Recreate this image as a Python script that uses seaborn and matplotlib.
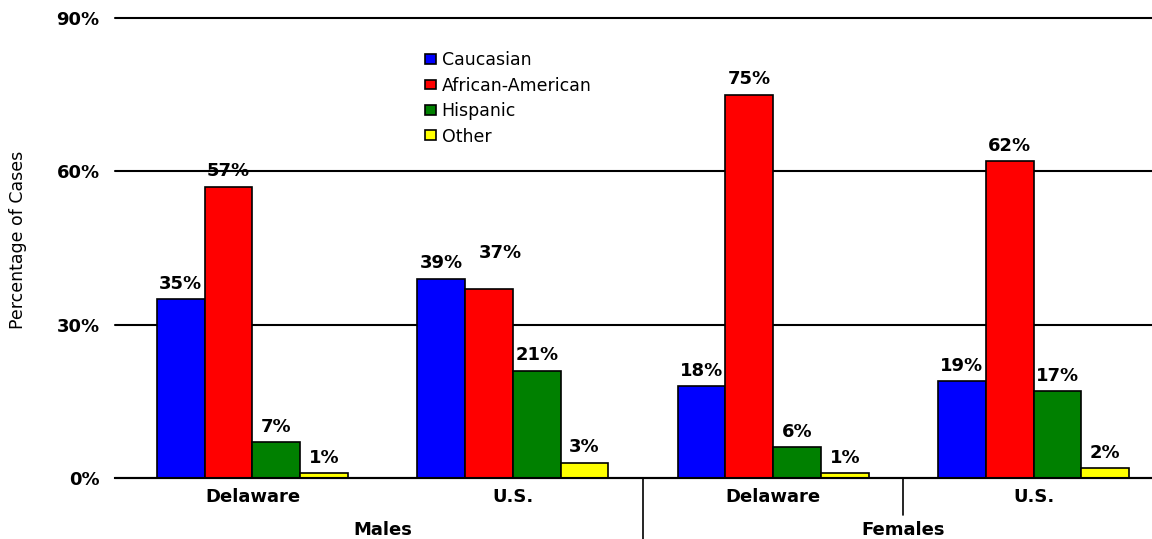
import matplotlib
matplotlib.use("Agg")
import matplotlib.pyplot as plt
from matplotlib.patches import Patch
import seaborn as sns
import pandas as pd

# Case shares (%) by sex, location and race/ethnicity
groups = ["Males Delaware", "Males U.S.", "Females Delaware", "Females U.S."]
tick_labels = ["Delaware", "U.S.", "Delaware", "U.S."]
sex_labels = ["Males", "Females"]
races = ["Caucasian", "African-American", "Hispanic", "Other"]
caucasian = [35, 39, 18, 19]
african_american = [57, 37, 75, 62]
hispanic = [7, 21, 6, 17]
other = [1, 3, 1, 2]
colors = ["#0000FF", "#FF0000", "#008000", "#FFFF00"]
y_ticks = [0, 30, 60, 90]

series = [caucasian, african_american, hispanic, other]
rows = []
for race, vals in zip(races, series):
    for g, v in zip(groups, vals):
        rows.append({"group": g, "race": race, "pct": v})
df = pd.DataFrame(rows)

sns.set_theme(style="white")
plt.rcParams["font.family"] = ["DejaVu Sans"]
plt.rcParams.update({"text.color": "black", "axes.labelcolor": "black",
                     "xtick.color": "black", "ytick.color": "black"})

fig = plt.figure(figsize=(11.52, 5.39), dpi=100)
ax = fig.add_axes([115 / 1152, 61 / 539, 1037 / 1152, 460 / 539])

sns.barplot(data=df, x="group", y="pct", hue="race", order=groups,
            hue_order=races, palette=colors, width=0.734, edgecolor="black",
            linewidth=1.2, saturation=1, legend=False, ax=ax, zorder=3)

label_pad = 4.5
for race, cont in zip(races, ax.containers):
    anns = ax.bar_label(cont, fmt="%d%%", padding=label_pad, fontsize=13,
                        fontweight="bold", color="black")
    if race == "African-American":
        # lift the Males U.S. label clear of its taller neighbour's label
        anns[1].xyann = (8, label_pad + 15)

ax.set_ylim(0, 90)
ax.set_xlim(-0.528, 3.455)
ax.set_yticks(y_ticks)
ax.set_yticklabels([f"{t}%" for t in y_ticks], fontsize=13, fontweight="bold")
ax.set_xticks(range(len(groups)))
ax.set_xticklabels(tick_labels, fontsize=13, fontweight="bold")
ax.tick_params(axis="y", length=0, pad=11)
ax.tick_params(axis="x", length=0, pad=7)
ax.set_xlabel("")
ax.set_ylabel("Percentage of Cases", fontsize=12.5)
ax.yaxis.set_label_coords(-0.085, 0.517)

ax.yaxis.grid(True, color="black", linewidth=1.5)
for gl in ax.get_ygridlines():
    gl.set_clip_on(False)
ax.set_axisbelow(True)
for side in ["left", "right", "top"]:
    ax.spines[side].set_visible(False)
ax.spines["bottom"].set_color("black")
ax.spines["bottom"].set_linewidth(1.5)
ax.spines["bottom"].set_zorder(5)

# Separators under the category axis
trans = ax.get_xaxis_transform()
ax.plot([1.5, 1.5], [0, -0.135], transform=trans, color="black",
        linewidth=1.2, clip_on=False)
ax.plot([2.5, 2.5], [0, -0.08], transform=trans, color="black",
        linewidth=1.2, clip_on=False)

for x, lab in zip([0.5, 2.5], sex_labels):
    ax.text(x, -0.113, lab, transform=trans, ha="center", va="center",
            fontsize=13, fontweight="bold")

handles = [Patch(facecolor=c, edgecolor="black", linewidth=1.2) for c in colors]
fig.legend(handles, races, loc="upper left", bbox_to_anchor=(0.369, 0.905),
           frameon=False, fontsize=12.5, handlelength=0.65, handleheight=0.5,
           handletextpad=0.3, labelspacing=0.43, borderpad=0, borderaxespad=0,
           labelcolor="black")

fig.savefig("out.png", dpi=100)
